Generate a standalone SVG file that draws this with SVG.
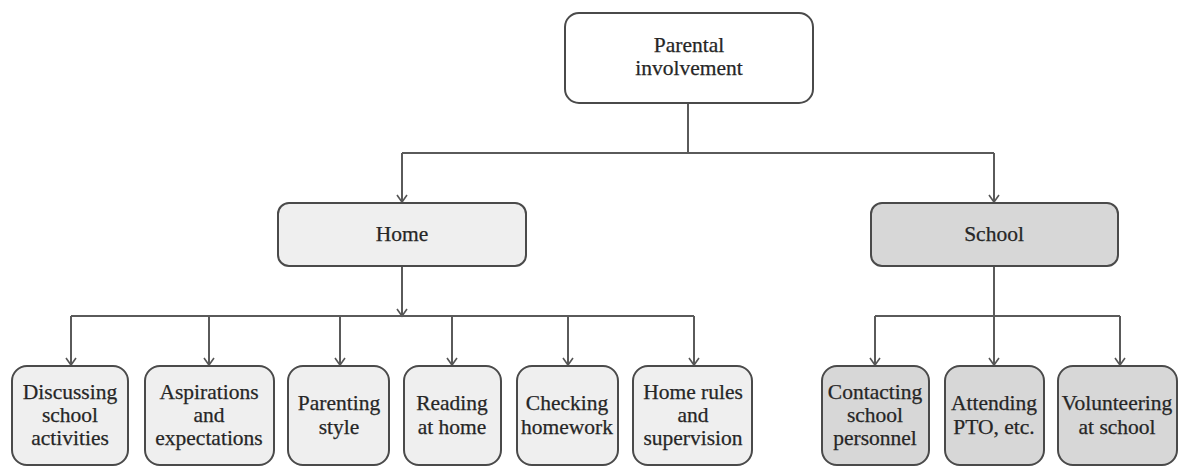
<svg xmlns="http://www.w3.org/2000/svg" width="1179" height="468" viewBox="0 0 1179 468">
<defs>
<marker id="arr" markerUnits="userSpaceOnUse" markerWidth="16" markerHeight="16" viewBox="-10 -8 12 16" refX="0" refY="0" orient="auto">
<path d="M-7,-5 L0,0 L-7,5" fill="none" stroke="#555" stroke-width="1.6"/>
</marker>
<style>
.box{stroke:#4a4a4a;stroke-width:2}
.top{fill:#ffffff}
.home{fill:#efefef}
.school{fill:#d7d7d7}
.t{font-family:"Liberation Serif","Times New Roman",serif;font-size:21.5px;fill:#262626;stroke:#262626;stroke-width:0.25;text-anchor:middle}
.c{fill:none;stroke:#5a5a5a;stroke-width:2}
</style>
</defs>
<rect width="1179" height="468" fill="#ffffff"/>
<g id="connectors">
<path class="c" d="M688,103 V153 M402,153 H994"/>
<path class="c" d="M402,153 V202" marker-end="url(#arr)"/>
<path class="c" d="M994,153 V202" marker-end="url(#arr)"/>
<path class="c" d="M402,266 V316" marker-end="url(#arr)"/>
<path class="c" d="M71,316 H694"/>
<path class="c" d="M71,316 V365" marker-end="url(#arr)"/>
<path class="c" d="M209,316 V365" marker-end="url(#arr)"/>
<path class="c" d="M340,316 V365" marker-end="url(#arr)"/>
<path class="c" d="M452,316 V365" marker-end="url(#arr)"/>
<path class="c" d="M568,316 V365" marker-end="url(#arr)"/>
<path class="c" d="M694,316 V365" marker-end="url(#arr)"/>
<path class="c" d="M994,266 V365" marker-end="url(#arr)"/>
<path class="c" d="M875,316 H1120"/>
<path class="c" d="M875,316 V365" marker-end="url(#arr)"/>
<path class="c" d="M1120,316 V365" marker-end="url(#arr)"/>
</g>
<g id="parental">
<rect class="box top" x="565" y="13" width="248" height="90" rx="14"/>
<text class="t" x="689" y="52">Parental</text>
<text class="t" x="689" y="75">involvement</text>
</g>
<g id="home">
<rect class="box home" x="278" y="203" width="248" height="63" rx="11"/>
<text class="t" x="402" y="241">Home</text>
</g>
<g id="school">
<rect class="box school" x="871" y="203" width="247" height="63" rx="11"/>
<text class="t" x="994" y="241">School</text>
</g>
<g id="discussing">
<rect class="box home" x="12" y="366" width="116" height="99" rx="15"/>
<text class="t" x="70" y="399">Discussing</text>
<text class="t" x="70" y="422">school</text>
<text class="t" x="70" y="445">activities</text>
</g>
<g id="aspirations">
<rect class="box home" x="145" y="366" width="129" height="99" rx="15"/>
<text class="t" x="209" y="399">Aspirations</text>
<text class="t" x="209" y="422">and</text>
<text class="t" x="209" y="445">expectations</text>
</g>
<g id="parenting">
<rect class="box home" x="288" y="366" width="101" height="99" rx="15"/>
<text class="t" x="339" y="410">Parenting</text>
<text class="t" x="339" y="434">style</text>
</g>
<g id="reading">
<rect class="box home" x="404" y="366" width="97" height="99" rx="15"/>
<text class="t" x="452" y="410">Reading</text>
<text class="t" x="452" y="434">at home</text>
</g>
<g id="checking">
<rect class="box home" x="517" y="366" width="101" height="99" rx="15"/>
<text class="t" x="567" y="410">Checking</text>
<text class="t" x="567" y="434">homework</text>
</g>
<g id="homerules">
<rect class="box home" x="633" y="366" width="119" height="99" rx="15"/>
<text class="t" x="693" y="399">Home rules</text>
<text class="t" x="693" y="422">and</text>
<text class="t" x="693" y="445">supervision</text>
</g>
<g id="contacting">
<rect class="box school" x="822" y="366" width="107" height="99" rx="15"/>
<text class="t" x="875" y="399">Contacting</text>
<text class="t" x="875" y="422">school</text>
<text class="t" x="875" y="445">personnel</text>
</g>
<g id="attending">
<rect class="box school" x="945" y="366" width="99" height="99" rx="15"/>
<text class="t" x="994" y="410">Attending</text>
<text class="t" x="994" y="434">PTO, etc.</text>
</g>
<g id="volunteering">
<rect class="box school" x="1058" y="366" width="119" height="99" rx="15"/>
<text class="t" x="1117" y="410">Volunteering</text>
<text class="t" x="1117" y="434">at school</text>
</g>
</svg>
